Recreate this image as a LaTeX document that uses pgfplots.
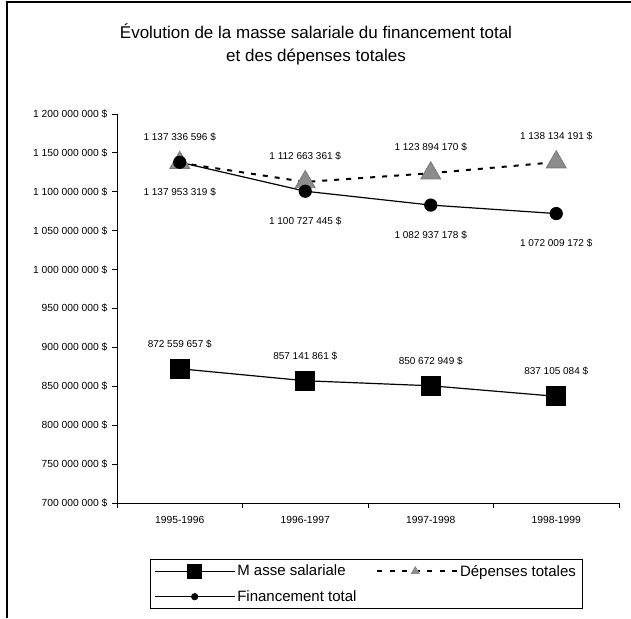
\documentclass[border=0pt]{standalone}
\usepackage{pgfplots}
\pgfplotsset{compat=1.18}
\usepackage{fontspec}
\setmainfont{Liberation Sans}
\definecolor{trigray}{HTML}{8C8C8C}
\definecolor{triedge}{HTML}{7A7A7A}
\pgfplotsset{
  legsq/.style={legend image code/.code={\draw[##1, mark size=7pt, mark repeat=2, mark phase=2] plot coordinates {(0pt,0pt) (40pt,0pt) (80pt,0pt)};}},
  legtri/.style={legend image code/.code={\draw[##1, line width=1.5pt, dash pattern=on 5pt off 7.5pt, mark size=3.8pt, mark options={solid, fill=trigray, draw=trigray}, mark repeat=2, mark phase=2] plot coordinates {(0pt,0pt) (38pt,0pt) (80pt,0pt)};}},
  legcirc/.style={legend image code/.code={\draw[##1, mark size=3pt, mark repeat=2, mark phase=2] plot coordinates {(0pt,0pt) (40pt,0pt) (80pt,0pt)};}},
}
\begin{document}
\begin{tikzpicture}[x=1pt,y=1pt]
\useasboundingbox (0,0) rectangle (631,618);
\draw[line width=1.5pt] (7,616) -- (631,616);
\draw[line width=2.5pt] (7,617) -- (7,0);
\node[align=center, font=\fontsize{17}{23}\selectfont] at (316,574) {Évolution de la masse salariale du financement total\\et des dépenses totales};
\begin{axis}[
  at={(117pt,115pt)}, anchor=south west,
  scale only axis, width=502pt, height=389pt,
  xmin=0.5, xmax=4.5, ymin=700000000, ymax=1200000000,
  scaled y ticks=false,
  axis x line*=bottom, axis y line*=left,
  axis line style={line width=0.8pt},
  xtick={1,2,3,4},
  xticklabels={1995-1996,1996-1997,1997-1998,1998-1999},
  major x tick style={draw=none},
  minor xtick={0.5,1.5,2.5,3.5,4.5},
  tick align=outside,
  major tick length=5pt, minor tick length=5pt,
  tick style={black, line width=0.8pt},
  ytick={700000000,750000000,800000000,850000000,900000000,950000000,1000000000,1050000000,1100000000,1150000000,1200000000},
  yticklabels={700 000 000 \$,750 000 000 \$,800 000 000 \$,850 000 000 \$,900 000 000 \$,950 000 000 \$,1 000 000 000 \$,1 050 000 000 \$,1 100 000 000 \$,1 150 000 000 \$,1 200 000 000 \$},
  ticklabel style={font=\fontsize{10.3}{12}\selectfont},
  xticklabel style={yshift=-5pt},
  yticklabel style={xshift=-1pt},
  clip=false,
  point meta=explicit symbolic,
  nodes near coords={\pgfplotspointmeta},
  nodes near coords style={font=\fontsize{10}{12}\selectfont, black},
  legend columns=2,
  legend style={at={(0.496,-0.208)}, anchor=center, draw=black, line width=0.8pt,
    font=\fontsize{15}{17}\selectfont, inner xsep=4pt, inner ysep=4pt, row sep=9pt,
    /tikz/every even column/.append style={column sep=18pt}},
  legend cell align=left,
]
\addplot[black, line width=1.2pt, mark=square*, mark size=9.5pt, mark options={solid, fill=black},
  every node near coord/.append style={anchor=south, yshift=17pt}, legsq]
  coordinates {(1,872559657) [872 559 657 \$] (2,857141861) [857 141 861 \$] (3,850672949) [850 672 949 \$] (4,837105084) [837 105 084 \$]};
\addlegendentry{M asse salariale}
\addplot[black, line width=2pt, dash pattern=on 5pt off 7pt, mark=triangle*, mark size=11.5pt, mark options={solid, fill=trigray, draw=triedge, line width=0.8pt},
  every node near coord/.append style={anchor=south, yshift=18pt}, legtri]
  coordinates {(1,1137336596) [1 137 336 596 \$] (2,1112663361) [1 112 663 361 \$] (3,1123894170) [1 123 894 170 \$] (4,1138134191) [1 138 134 191 \$]};
\addlegendentry{Dépenses totales}
\addplot[black, line width=1.2pt, mark=*, mark size=6pt, mark options={solid, fill=black},
  every node near coord/.append style={anchor=north, yshift=-22pt}, legcirc]
  coordinates {(1,1137953319) [1 137 953 319 \$] (2,1100727445) [1 100 727 445 \$] (3,1082937178) [1 082 937 178 \$] (4,1072009172) [1 072 009 172 \$]};
\addlegendentry{Financement total}
\end{axis}
\end{tikzpicture}
\end{document}
